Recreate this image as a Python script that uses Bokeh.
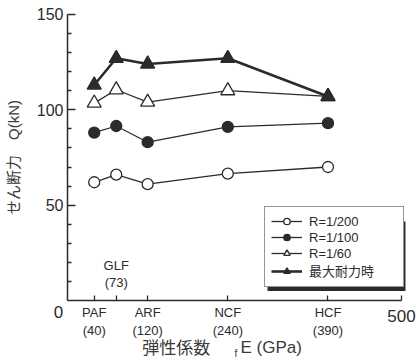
from bokeh.plotting import figure
from bokeh.models import (ColumnDataSource, FixedTicker, Legend, LegendItem,
                          Range1d, BoxAnnotation)
from bokeh.core.properties import value
from bokeh.embed import file_html
from bokeh.resources import INLINE

# Fibre types and their elastic modulus fE (GPa)
fibers = ["PAF", "GLF", "ARF", "NCF", "HCF"]
modulus = [40, 73, 120, 240, 390]

# Shear force Q (kN) at each drift stage
q_r200 = [62, 66, 61, 66.5, 70]
q_r100 = [88, 91.5, 83, 91, 93]
q_r60 = [103.5, 110.5, 104, 110, 107]
q_max = [113, 127, 124, 127, 107]

series_labels = ["R=1/200", "R=1/100", "R=1/60", "最大耐力時"]

y_major = [50, 100, 150]
y_minor = [10, 20, 30, 40, 60, 70, 80, 90, 110, 120, 130, 140]

X_MAX = 500
Y_MAX = 150

FONT = "Liberation Sans, Noto Sans CJK JP, sans-serif"
INK = "#2b2b2b"
SOFT = "#3a3a3a"

# The frame covers the whole canvas; axes are pinned at zero and bounded,
# so the labels around them stay inside the drawable area.
p = figure(width=416, height=362, output_backend="svg", toolbar_location=None,
           x_range=Range1d(-100.3, 522.5), y_range=Range1d(-32.5, 157.3),
           min_border=0)
p.outline_line_color = None
p.xgrid.visible = False
p.ygrid.visible = False
p.background_fill_color = "white"
p.border_fill_color = "white"

# y axis
ya = p.yaxis[0]
ya.fixed_location = 0
ya.bounds = (0, Y_MAX)
ya.ticker = FixedTicker(ticks=y_major, minor_ticks=y_minor)
ya.major_tick_in = 8
ya.major_tick_out = 0
ya.minor_tick_in = 4
ya.minor_tick_out = 0
ya.axis_line_width = 1.5
ya.axis_line_color = INK
ya.major_tick_line_color = INK
ya.minor_tick_line_color = INK
ya.major_tick_line_width = 1.3
ya.minor_tick_line_width = 1.3
ya.major_label_text_font = FONT
ya.major_label_text_font_size = "16px"
ya.major_label_text_color = INK
ya.major_label_standoff = 4
ya.axis_label = "せん断力　Q(kN)"
ya.axis_label_text_font = FONT
ya.axis_label_text_font_size = "15px"
ya.axis_label_text_font_style = "normal"
ya.axis_label_text_color = SOFT
ya.axis_label_standoff = 12

# x axis: fibre names with modulus beneath
xa = p.xaxis[0]
xa.fixed_location = 0
xa.bounds = (0, X_MAX)
x_ticks = modulus + [X_MAX]
xa.ticker = FixedTicker(ticks=x_ticks, minor_ticks=[])
overrides = {m: f"{f}\n({m})" for f, m in zip(fibers, modulus)}
overrides[73] = ""
overrides[X_MAX] = ""
xa.major_label_overrides = overrides
xa.major_tick_in = 5
xa.major_tick_out = 0
xa.axis_line_width = 1.5
xa.axis_line_color = INK
xa.major_tick_line_color = INK
xa.major_tick_line_width = 1.3
xa.major_label_text_font = FONT
xa.major_label_text_font_size = "13px"
xa.major_label_text_color = INK
xa.major_label_standoff = 4

# GLF label sits above the axis
glf_src = ColumnDataSource(dict(x=[modulus[1]], y=[0],
                                t=[f"{fibers[1]}\n({modulus[1]})"]))
p.text(x="x", y="y", text="t", source=glf_src, y_offset=-11,
       text_font=value(FONT), text_font_size="13px", text_color=INK,
       text_align="center", text_baseline="bottom", text_line_height=1.1)

# axis end values 0 and 500
ends_src = ColumnDataSource(dict(x=[0, X_MAX], y=[0, 0], t=["0", str(X_MAX)],
                                 dx=[-9, 0], dy=[11, 15]))
p.text(x="x", y="y", text="t", source=ends_src, x_offset="dx", y_offset="dy",
       text_font=value(FONT), text_font_size="17px", text_color=INK,
       text_align="center", text_baseline="middle")

# x axis title: 弾性係数  fE (GPa)
title_src = ColumnDataSource(dict(x=[112, 250, 259], y=[0, 0, 0],
                                  t=["弾性係数", "f", "E (GPa)"],
                                  dy=[48, 53, 47],
                                  fs=["17px", "10px", "17px"]))
p.text(x="x", y="y", text="t", source=title_src, y_offset="dy",
       text_font_size="fs", text_font=value(FONT), text_color=SOFT,
       text_align="left", text_baseline="middle")

src = ColumnDataSource(dict(x=modulus, r200=q_r200, r100=q_r100, r60=q_r60, qmax=q_max))

styles = [
    ("r200", "circle", 11, "white", 1.3),
    ("r100", "circle", 11, INK, 1.3),
    ("r60", "triangle", 14, "white", 1.3),
    ("qmax", "triangle", 14, INK, 2.6),
]

items = []
for (col, marker, size, fill, lw), lab in zip(styles, series_labels):
    ln = p.line("x", col, source=src, line_color=INK, line_width=lw)
    sc = p.scatter("x", col, source=src, marker=marker, size=size,
                   fill_color=fill, line_color=INK, line_width=1.3)
    items.append(LegendItem(label=lab, renderers=[ln, sc]))

# drop shadow behind the legend box
p.add_layout(BoxAnnotation(left=299.4, right=506.0, top=41.4, bottom=5.0,
                           fill_color=INK, fill_alpha=1, line_color=None,
                           level="annotation"))

legend = Legend(items=items, location=(264, 75), margin=0, padding=6,
                spacing=-2, glyph_width=31, glyph_height=16, label_height=14,
                label_width=88, label_standoff=7, label_text_font=FONT,
                label_text_font_size="13px", label_text_color=INK,
                border_line_color=INK, border_line_width=1.5,
                background_fill_color="white", background_fill_alpha=1)
p.add_layout(legend, "center")

open("out.html", "w").write(file_html(p, INLINE))
